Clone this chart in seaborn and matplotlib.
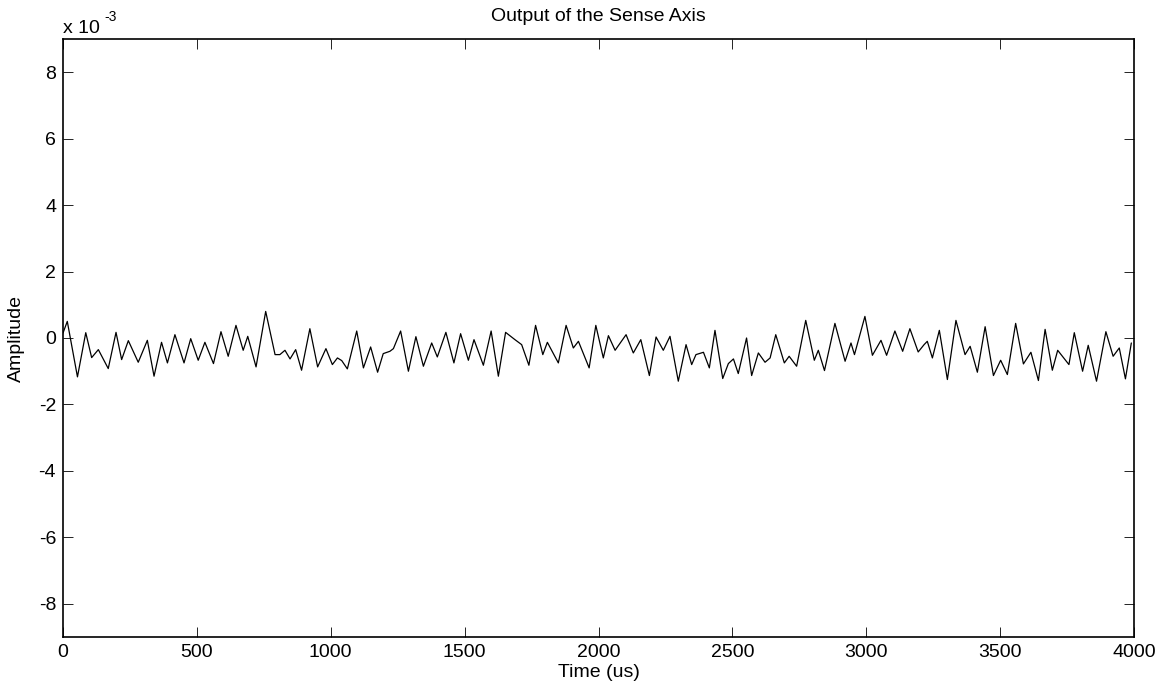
import numpy as np
import pandas as pd
import matplotlib
matplotlib.use("Agg")
import matplotlib.pyplot as plt
import seaborn as sns
from matplotlib.ticker import FuncFormatter

# Time (us) of read-off points (local extrema / shoulders) of the trace
time_us = [0, 16, 54, 85, 107, 132, 169, 198, 219, 244, 281, 315, 340, 368, 390,
           418, 452, 477, 505, 530, 562, 590, 617, 646, 673, 690, 721, 757, 792,
           810, 829, 848, 869, 891, 922, 951, 982, 1006, 1025, 1041, 1062, 1097,
           1122, 1149, 1175, 1196, 1221, 1234, 1261, 1290, 1318, 1346, 1377, 1398,
           1430, 1460, 1485, 1514, 1535, 1570, 1599, 1626, 1653, 1688, 1713, 1740,
           1765, 1792, 1809, 1850, 1879, 1906, 1925, 1965, 1990, 2018, 2037, 2062,
           2103, 2130, 2158, 2190, 2215, 2242, 2267, 2298, 2327, 2348, 2364, 2392,
           2414, 2435, 2464, 2485, 2504, 2522, 2553, 2572, 2597, 2622, 2641, 2662,
           2694, 2712, 2740, 2774, 2806, 2821, 2844, 2883, 2921, 2943, 2956, 2995,
           3023, 3055, 3076, 3107, 3136, 3163, 3194, 3216, 3228, 3247, 3273, 3303,
           3335, 3369, 3388, 3415, 3444, 3475, 3502, 3527, 3558, 3587, 3615, 3643,
           3668, 3695, 3715, 3757, 3777, 3808, 3829, 3860, 3895, 3922, 3945, 3968,
           3990]

# Amplitude in units of 1e-3
amplitude_e3 = [0.15, 0.50, -1.17, 0.16, -0.59, -0.35, -0.92, 0.17, -0.65, -0.08,
                -0.73, -0.07, -1.15, -0.13, -0.75, 0.10, -0.75, -0.02, -0.67, -0.13,
                -0.77, 0.19, -0.55, 0.38, -0.37, 0.05, -0.87, 0.80, -0.50, -0.50,
                -0.37, -0.63, -0.35, -0.97, 0.28, -0.87, -0.32, -0.80, -0.60, -0.68,
                -0.93, 0.21, -0.90, -0.27, -1.03, -0.47, -0.40, -0.32, 0.21, -1.00,
                0.04, -0.85, -0.15, -0.57, 0.17, -0.75, 0.13, -0.67, -0.05, -0.82,
                0.21, -1.15, 0.17, -0.05, -0.20, -0.82, 0.38, -0.50, -0.13, -0.75,
                0.38, -0.30, -0.10, -0.90, 0.38, -0.60, 0.07, -0.37, 0.10, -0.45,
                -0.05, -1.13, 0.03, -0.37, 0.05, -1.30, -0.20, -0.80, -0.50, -0.43,
                -0.90, 0.23, -1.22, -0.77, -0.63, -1.07, 0.00, -1.13, -0.45, -0.73,
                -0.60, 0.10, -0.75, -0.55, -0.85, 0.53, -0.67, -0.37, -0.98, 0.44,
                -0.70, -0.15, -0.50, 0.65, -0.52, -0.07, -0.52, 0.21, -0.40, 0.28,
                -0.42, -0.20, -0.10, -0.60, 0.23, -1.25, 0.53, -0.50, -0.25, -1.03,
                0.34, -1.13, -0.67, -1.10, 0.44, -0.78, -0.43, -1.28, 0.26, -0.97,
                -0.37, -0.80, 0.16, -1.00, -0.22, -1.30, 0.19, -0.55, -0.30, -1.23,
                -0.15]

x_ticks = [0, 500, 1000, 1500, 2000, 2500, 3000, 3500, 4000]
y_ticks_e3 = [-8, -6, -4, -2, 0, 2, 4, 6, 8]

title_text = "Output of the Sense Axis"
x_label = "Time (us)"
y_label = "Amplitude"

sns.set_style("ticks")
plt.rcParams['font.family'] = ['Liberation Sans', 'DejaVu Sans']
plt.rcParams['text.color'] = 'black'
plt.rcParams['axes.labelcolor'] = 'black'

W, H = 1169, 690
fig = plt.figure(figsize=(W / 100, H / 100), dpi=100)
ax = fig.add_axes([63 / W, 1 - 637 / H, (1134 - 63) / W, (637 - 39) / H])

df = pd.DataFrame({"t": time_us, "amp": np.array(amplitude_e3) * 1e-3})
sns.lineplot(data=df, x="t", y="amp", ax=ax, color="black", linewidth=0.9,
             estimator=None, sort=False)

ax.set_xlim(0, 4000)
ax.set_ylim(-9e-3, 9e-3)
ax.set_xticks(x_ticks)
ax.set_yticks(np.array(y_ticks_e3) * 1e-3)
ax.yaxis.set_major_formatter(FuncFormatter(lambda v, p: f"{round(v * 1e3):d}"))
ax.xaxis.set_major_formatter(FuncFormatter(lambda v, p: f"{round(v):d}"))

fs = 14
ax.tick_params(direction="in", length=7.5, width=0.6, top=True, right=True,
               labelsize=fs, colors="black", pad=5)
for s in ax.spines.values():
    s.set_visible(True)
    s.set_color("black")
    s.set_linewidth(1.2)

ax.set_title(title_text, fontsize=fs, pad=13, color="black")
ax.set_xlabel(x_label, fontsize=fs, labelpad=2, color="black")
ax.set_ylabel(y_label, fontsize=fs, labelpad=10, color="black")

fig.text(63 / W, 1 - 33 / H, "x 10", fontsize=fs, ha="left", va="baseline")
fig.text(104 / W, 1 - 21 / H, "-3", fontsize=10, ha="left", va="baseline")

fig.savefig("out.png", dpi=100, facecolor="white")
